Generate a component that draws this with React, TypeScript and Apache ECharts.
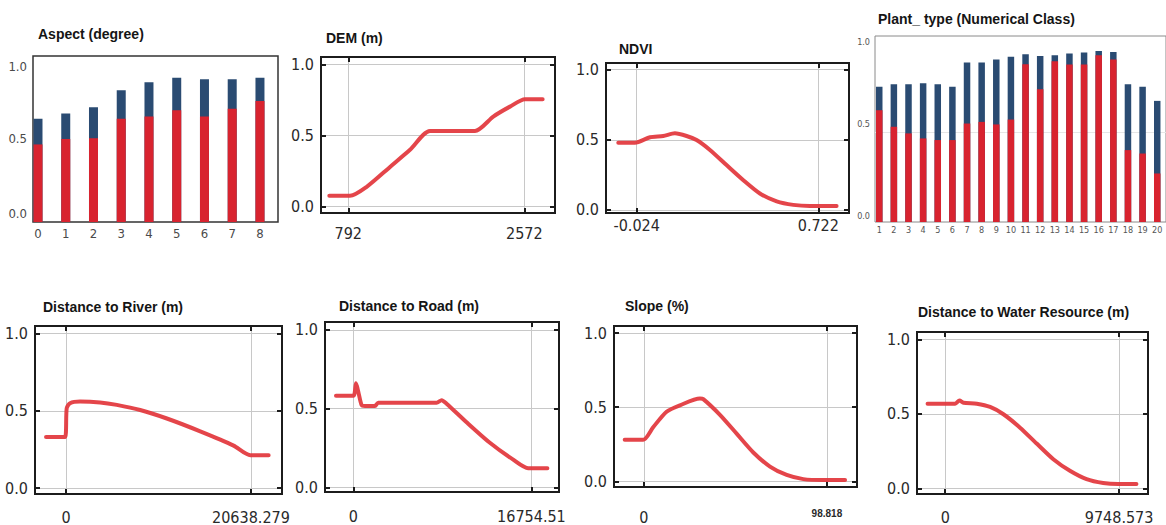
import React, { useEffect, useRef } from "react";
import * as echarts from "echarts";

// ---------------- DATA ----------------
const aspectClasses = [0, 1, 2, 3, 4, 5, 6, 7, 8];
const aspectTotal = [0.665, 0.7, 0.74, 0.85, 0.9, 0.93, 0.92, 0.92, 0.93];
const aspectPresence = [0.5, 0.535, 0.54, 0.665, 0.68, 0.72, 0.68, 0.73, 0.78];

const plantClasses = [1, 2, 3, 4, 5, 6, 7, 8, 9, 10, 11, 12, 13, 14, 15, 16, 17, 18, 19, 20];
const plantTotal = [0.752, 0.767, 0.767, 0.772, 0.767, 0.752, 0.887, 0.887, 0.904, 0.919, 0.933, 0.924, 0.928, 0.937, 0.943, 0.952, 0.946, 0.767, 0.752, 0.674];
const plantPresence = [0.622, 0.53, 0.493, 0.465, 0.456, 0.456, 0.548, 0.557, 0.543, 0.57, 0.878, 0.739, 0.894, 0.876, 0.876, 0.928, 0.904, 0.4, 0.381, 0.27];

const demX = [600, 809, 978, 1214, 1416, 1618, 2073, 2258, 2427, 2579, 2757];
const demY = [0.077, 0.077, 0.14, 0.28, 0.4, 0.533, 0.533, 0.634, 0.704, 0.756, 0.756];
const demTicks = [792, 2572];

const ndviX = [-0.0996, -0.031, 0.031, 0.085, 0.133, 0.181, 0.222, 0.277, 0.345, 0.414, 0.482, 0.551, 0.619, 0.687, 0.797];
const ndviY = [0.479, 0.479, 0.518, 0.527, 0.546, 0.527, 0.498, 0.427, 0.319, 0.211, 0.116, 0.06, 0.035, 0.027, 0.027];
const ndviTicks = [-0.024, 0.722];

const riverX = [-2235, -112, 74, 447, 1565, 3800, 5663, 8271, 11252, 14976, 18700, 20563, 22612];
const riverY = [0.33, 0.33, 0.516, 0.549, 0.56, 0.554, 0.538, 0.505, 0.45, 0.367, 0.275, 0.213, 0.213];
const riverTicks = [0, 20638.279];

const roadX = [-1626, 0, 254, 470, 789, 1100, 2039, 2350, 7837, 8307, 8777, 10656, 12846, 15039, 16441, 18254];
const roadY = [0.582, 0.582, 0.661, 0.608, 0.522, 0.517, 0.517, 0.538, 0.538, 0.554, 0.532, 0.414, 0.284, 0.177, 0.123, 0.123];
const roadTicks = [0, 16754.51];

const slopeX = [-10.3, -0.36, 5.05, 12.3, 19.5, 30.3, 32.1, 41.1, 50.1, 59.1, 68.1, 77.1, 86.1, 96.9, 108.6];
const slopeY = [0.28, 0.28, 0.365, 0.47, 0.513, 0.559, 0.555, 0.449, 0.322, 0.195, 0.1, 0.043, 0.015, 0.009, 0.009];
const slopeTicks = [0, 98.818];

const waterX = [-990, 559, 800, 1024, 1770, 2517, 3263, 4195, 5128, 6060, 6992, 7924, 8856, 9692, 10721];
const waterY = [0.569, 0.569, 0.591, 0.576, 0.569, 0.547, 0.498, 0.408, 0.301, 0.196, 0.118, 0.062, 0.036, 0.029, 0.029];
const waterTicks = [0, 9748.573];

const yTicks = [0, 0.5, 1];

// ---------------- STYLE ----------------
const NARROW = '"Liberation Sans Narrow", "Arial Narrow", "DejaVu Sans Condensed", sans-serif';
const SANS = '"Liberation Sans", Arial, Helvetica, sans-serif';
const RED_LINE = "#e2353b";
const RED_BAR = "#d8232f";
const BLUE_BAR = "#2a4b72";

function buildOption() {
  const option: any = {
    animation: false,
    backgroundColor: "#ffffff",
    title: [],
    grid: [],
    xAxis: [],
    yAxis: [],
    series: [],
  };

  const addTitle = (text: string, left: number, top: number) => {
    option.title.push({
      text,
      left,
      top,
      padding: 0,
      textStyle: { fontFamily: SANS, fontSize: 14, fontWeight: "bold", color: "#151515" },
    });
  };

  const addBarPanel = (p: any) => {
    const g = option.grid.length;
    option.grid.push({
      left: p.left, top: p.top, width: p.width, height: p.height,
      show: true, borderColor: p.border, borderWidth: p.borderWidth, backgroundColor: "#fff",
    });
    const xi = option.xAxis.length;
    option.xAxis.push({
      type: "value", gridIndex: g, min: p.xMin, max: p.xMax,
      axisLine: { show: false, onZero: false },
      axisTick: { show: false },
      splitLine: { show: false },
      axisLabel: {
        customValues: p.cats, formatter: (v: number) => String(v),
        fontFamily: NARROW, fontSize: p.xFont, color: p.labelColor, margin: p.xMargin,
      },
    });
    const yi = option.yAxis.length;
    const lift = p.labelLift;
    option.yAxis.push({
      type: "value", gridIndex: g, min: 0, max: p.yMax,
      axisLine: { show: false, onZero: false },
      axisTick: { show: false, customValues: p.splitAt },
      splitLine: { show: p.splitAt.length > 0, lineStyle: { color: "#e6e6e6", width: 1 } },
      axisLabel: {
        customValues: yTicks,
        formatter: (v: number) => (v === 0 ? "{a|0.0}" : v === 0.5 ? "{b|0.5}" : "{c|1.0}"),
        rich: {
          a: { fontFamily: NARROW, fontSize: p.yFont, color: p.labelColor, padding: [0, 0, lift[0] * 2, 0] },
          b: { fontFamily: NARROW, fontSize: p.yFont, color: p.labelColor, padding: [0, 0, lift[1] * 2, 0] },
          c: { fontFamily: NARROW, fontSize: p.yFont, color: p.labelColor, padding: [0, 0, lift[2] * 2, 0] },
        },
        fontFamily: NARROW, fontSize: p.yFont, color: p.labelColor, margin: p.yMargin,
      },
    });
    option.series.push({
      type: "bar", xAxisIndex: xi, yAxisIndex: yi, barWidth: p.barWidth, barGap: "-100%",
      data: p.cats.map((c: number, i: number) => [c, p.total[i]]),
      itemStyle: { color: BLUE_BAR },
    });
    option.series.push({
      type: "bar", xAxisIndex: xi, yAxisIndex: yi, barWidth: p.barWidth, barGap: "-100%",
      data: p.cats.map((c: number, i: number) => [c, p.presence[i]]),
      itemStyle: { color: RED_BAR },
    });
  };

  const addLinePanel = (p: any) => {
    const g = option.grid.length;
    option.grid.push({
      left: p.left, top: p.top, width: p.width, height: p.height,
      show: true, borderColor: "#1c1c1c", borderWidth: 2, backgroundColor: "#fff",
    });
    const tickStyle = { color: "#1c1c1c", width: 2 };
    const xi = option.xAxis.length;
    option.xAxis.push({
      type: "value", gridIndex: g, position: "bottom", min: p.xMin, max: p.xMax,
      axisLine: { show: false, onZero: false },
      axisTick: { show: true, inside: true, length: 5, customValues: p.ticks, lineStyle: tickStyle },
      splitLine: { show: true, lineStyle: { color: "#c8c8c8", width: 1 } },
      axisLabel: {
        customValues: p.ticks,
        formatter: p.formatter || ((v: number) => String(v)),
        rich: p.rich,
        fontFamily: NARROW, fontSize: 16, color: "#2a2a2a", margin: p.xMargin,
      },
    });
    option.xAxis.push({
      type: "value", gridIndex: g, position: "top", min: p.xMin, max: p.xMax,
      axisLine: { show: false, onZero: false },
      axisTick: { show: true, inside: true, length: 5, customValues: p.ticks, lineStyle: tickStyle },
      splitLine: { show: false },
      axisLabel: { show: false },
    });
    const yi = option.yAxis.length;
    option.yAxis.push({
      type: "value", gridIndex: g, position: "left", min: p.yMin, max: p.yMax,
      axisLine: { show: false, onZero: false },
      axisTick: { show: true, inside: true, length: 5, customValues: yTicks, lineStyle: tickStyle },
      splitLine: { show: true, lineStyle: { color: "#c8c8c8", width: 1 } },
      axisLabel: {
        customValues: yTicks, formatter: (v: number) => v.toFixed(1),
        fontFamily: NARROW, fontSize: 16, color: "#2a2a2a", margin: 7,
      },
    });
    option.yAxis.push({
      type: "value", gridIndex: g, position: "right", min: p.yMin, max: p.yMax,
      axisLine: { show: false, onZero: false },
      axisTick: { show: true, inside: true, length: 5, customValues: yTicks, lineStyle: tickStyle },
      splitLine: { show: false },
      axisLabel: { show: false },
    });
    option.series.push({
      type: "line", xAxisIndex: xi, yAxisIndex: yi, smooth: 0.25, showSymbol: false,
      data: p.xs.map((x: number, i: number) => [x, p.ys[i]]),
      lineStyle: { color: RED_LINE, width: 4, opacity: 0.92, cap: "round", join: "round" },
    });
  };

  // ---- top row ----
  addTitle("Aspect (degree)", 38, 27);
  addBarPanel({
    left: 33, top: 56, width: 245, height: 166, border: "#333", borderWidth: 1.5,
    xMin: -0.18, xMax: 8.65, yMax: 1.07, cats: aspectClasses, total: aspectTotal, presence: aspectPresence,
    barWidth: 9, xFont: 13, yFont: 13, labelColor: "#4a4a4a", xMargin: 5, yMargin: 6, splitAt: [],
    labelLift: [9, 6, 0],
  });

  addTitle("DEM (m)", 326, 31);
  addLinePanel({
    left: 321, top: 57, width: 234, height: 156, xMin: 516, xMax: 2882, yMin: -0.044, yMax: 1.053,
    ticks: demTicks, xs: demX, ys: demY, xMargin: 12,
  });

  addTitle("NDVI", 619, 42);
  addLinePanel({
    left: 606, top: 63, width: 243, height: 150, xMin: -0.15, xMax: 0.848, yMin: -0.023, yMax: 1.048,
    ticks: ndviTicks, xs: ndviX, ys: ndviY, xMargin: 4,
  });

  addTitle("Plant_ type (Numerical Class)", 878, 12);
  addBarPanel({
    left: 875, top: 36, width: 296, height: 186, border: "#8a8a8a", borderWidth: 1,
    xMin: 0.71, xMax: 20.6, yMax: 1.035, cats: plantClasses, total: plantTotal, presence: plantPresence,
    barWidth: 6.5, xFont: 9, yFont: 9, labelColor: "#555", xMargin: 3, yMargin: 5, splitAt: [0.5],
    labelLift: [6, 8, 0],
  });

  // ---- bottom row ----
  addTitle("Distance to River (m)", 43, 300);
  addLinePanel({
    left: 35, top: 326, width: 247, height: 169, xMin: -3465, xMax: 24103, yMin: -0.038, yMax: 1.048,
    ticks: riverTicks, xs: riverX, ys: riverY, xMargin: 15,
  });

  addTitle("Distance to Road (m)", 339, 299);
  addLinePanel({
    left: 325, top: 322, width: 234, height: 170, xMin: -2660, xMax: 19348, yMin: -0.028, yMax: 1.05,
    ticks: roadTicks, xs: roadX, ys: roadY, xMargin: 16,
  });

  addTitle("Slope (%)", 625, 299);
  addLinePanel({
    left: 614, top: 326, width: 243, height: 173, xMin: -16.07, xMax: 115.05, yMin: -0.038, yMax: 1.048,
    ticks: slopeTicks, xs: slopeX, ys: slopeY, xMargin: 13,
    formatter: (v: number) => (v === 0 ? "{big|0}" : "{small|" + String(v) + "}"),
    rich: {
      big: { fontFamily: NARROW, fontSize: 16, color: "#2a2a2a", padding: [9, 0, 0, 0] },
      small: { fontFamily: SANS, fontSize: 10, fontWeight: "bold", color: "#2a2a2a", padding: [8, 0, 0, 0] },
    },
  });

  addTitle("Distance to Water Resource (m)", 918, 305);
  addLinePanel({
    left: 917, top: 332, width: 231, height: 164, xMin: -1583, xMax: 11370, yMin: -0.038, yMax: 1.051,
    ticks: waterTicks, xs: waterX, ys: waterY, xMargin: 15,
  });

  return option;
}

export default function App() {
  const ref = useRef<HTMLDivElement>(null);
  useEffect(() => {
    if (!ref.current) return;
    const chart = echarts.init(ref.current, null, { renderer: "svg" });
    chart.setOption(buildOption());
    return () => chart.dispose();
  }, []);
  return (
    <div
      ref={ref}
      style={{ position: "fixed", left: 0, top: 0, width: 1166, height: 525, background: "#fff" }}
    />
  );
}
